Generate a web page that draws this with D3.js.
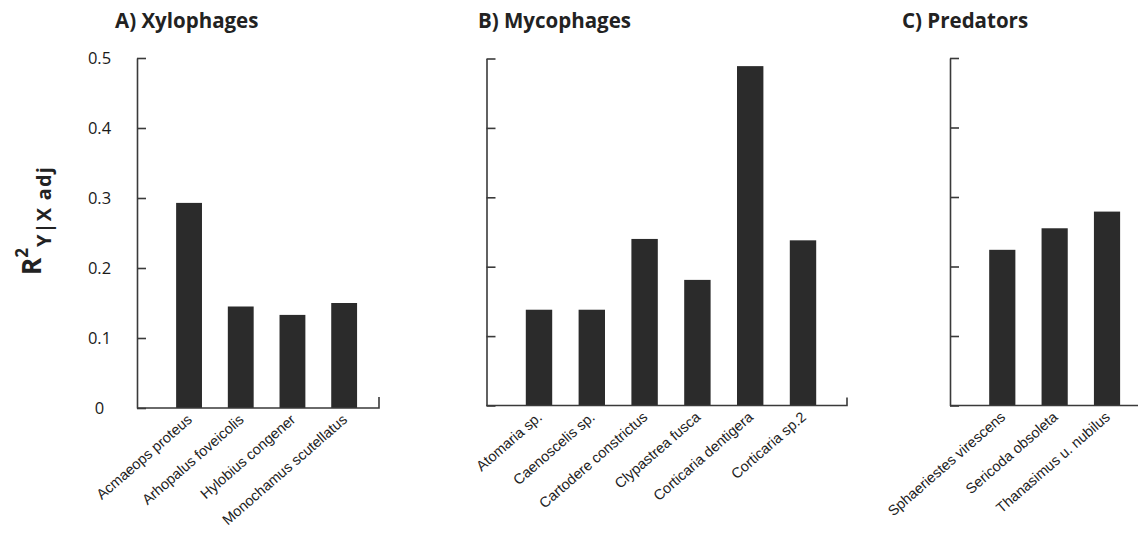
<!DOCTYPE html>
<html>
<head>
<meta charset="utf-8">
<script src="https://cdn.jsdelivr.net/npm/d3@7"></script>
<style>
  body { margin: 0; background: #fff; }
  svg { display: block; }
</style>
</head>
<body>
<svg id="chart" width="1138" height="543"></svg>
<script>
// Adjusted R² per species, grouped by feeding guild
const xyloSpecies = ["Acmaeops proteus", "Arhopalus foveicolis", "Hylobius congener", "Monochamus scutellatus"];
const xyloR2 = [0.293, 0.145, 0.133, 0.150];

const mycoSpecies = ["Atomaria sp.", "Caenoscelis sp.", "Cartodere constrictus", "Clypastrea fusca", "Corticaria dentigera", "Corticaria sp.2"];
const mycoR2 = [0.138, 0.138, 0.240, 0.181, 0.489, 0.238];

const predSpecies = ["Sphaeriestes virescens", "Sericoda obsoleta", "Thanasimus u. nubilus"];
const predR2 = [0.224, 0.255, 0.279];

const panelTitles = ["A) Xylophages", "B) Mycophages", "C) Predators"];
const yTicks = [0, 0.1, 0.2, 0.3, 0.4, 0.5];
const yMax = 0.5;

// Panel geometry (pixel layout)
const panels = [
  { title: panelTitles[0], names: xyloSpecies, values: xyloR2, axisX: 137, top: 58, base: 408,
    xEnd: 379, band: [163.2, 370], titleX: 115, endTick: 11, tickLabels: true },
  { title: panelTitles[1], names: mycoSpecies, values: mycoR2, axisX: 486.5, top: 58.5, base: 405.5,
    xEnd: 847, band: [512.6, 829.4], titleX: 478, endTick: 8, tickLabels: false },
  { title: panelTitles[2], names: predSpecies, values: predR2, axisX: 950, top: 58, base: 405.5,
    xEnd: 1140, band: [976.1, 1133.2], titleX: 902, endTick: 0, tickLabels: false }
];

const svg = d3.select("#chart");
const ink = "#2b2b2b";
const axisInk = "#3a3a3a";

panels.forEach(p => {
  const g = svg.append("g");

  const y = d3.scaleLinear().domain([0, yMax]).range([p.base, p.top]);
  const x = d3.scaleBand().domain(p.names).range(p.band).paddingInner(0.5).paddingOuter(0.25);

  // panel title
  g.append("text")
    .attr("x", p.titleX).attr("y", 28)
    .attr("font-family", "'Open Sans', sans-serif")
    .attr("font-weight", 700).attr("font-size", 20.5)
    .attr("fill", "#222")
    .text(p.title);

  // y axis with inward ticks
  const yAxis = d3.axisLeft(y)
    .tickValues(yTicks)
    .tickSizeInner(-9).tickSizeOuter(0)
    .tickPadding(0)
    .tickFormat(() => "");
  const ya = g.append("g").attr("transform", `translate(${p.axisX},0)`).call(yAxis);
  ya.select(".domain").attr("stroke", axisInk).attr("stroke-width", 1.6);
  ya.selectAll(".tick line").attr("stroke", axisInk).attr("stroke-width", 1.6);

  if (p.tickLabels) {
    g.selectAll("text.ytl").data(yTicks).join("text")
      .attr("class", "ytl")
      .attr("x", 99.5).attr("y", d => y(d))
      .attr("dy", "0.36em")
      .attr("text-anchor", "middle")
      .attr("font-family", "'Open Sans', sans-serif")
      .attr("font-size", 16.5).attr("fill", "#1a1a1a")
      .text(d => d === 0 ? "0" : d.toFixed(1));
  }

  // bars
  g.selectAll("rect.bar").data(p.values).join("rect")
    .attr("class", "bar")
    .attr("x", (d, i) => x(p.names[i]))
    .attr("width", x.bandwidth())
    .attr("y", d => y(d))
    .attr("height", d => y(0) - y(d))
    .attr("fill", ink);

  // baseline with small closing tick
  const basePath = d3.path();
  basePath.moveTo(p.axisX, p.base);
  basePath.lineTo(p.xEnd, p.base);
  if (p.endTick) basePath.lineTo(p.xEnd, p.base - p.endTick);
  g.append("path").attr("d", basePath.toString())
    .attr("fill", "none").attr("stroke", axisInk).attr("stroke-width", 1.6);

  // rotated species labels
  g.selectAll("text.xl").data(p.names).join("text")
    .attr("class", "xl")
    .attr("transform", d => `translate(${x(d) + x.bandwidth() / 2 + 4},${p.base + 13}) rotate(-41)`)
    .attr("text-anchor", "end")
    .attr("font-family", "'Liberation Sans', Arial, sans-serif")
    .attr("font-size", 14.5).attr("fill", "#222")
    .text(d => d);
});

// y-axis title: R² with subscript Y|X adj
const yTitle = svg.append("text")
  .attr("transform", "translate(41,275) rotate(-90)")
  .attr("font-family", "'Open Sans', sans-serif")
  .attr("font-weight", 700).attr("fill", "#222");
yTitle.append("tspan").attr("font-size", 26).text("R");
yTitle.append("tspan").attr("font-size", 17).attr("dy", -13).text("2");
yTitle.append("tspan").attr("font-size", 20).attr("dy", 23).attr("dx", 1)
  .attr("letter-spacing", 1.2).text("Y|X adj");
</script>
</body>
</html>
